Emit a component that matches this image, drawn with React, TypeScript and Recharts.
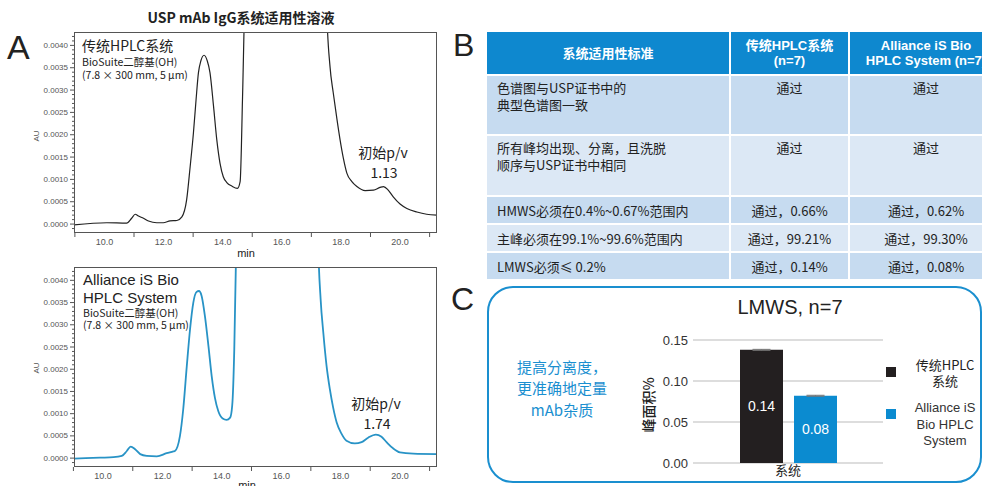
import { LineChart, Line, XAxis, YAxis, BarChart, Bar, CartesianGrid, LabelList, ErrorBar } from "recharts"

// chromatogram, legacy HPLC (min / AU)
const legacyTime = [8.97, 10.08, 10.75, 10.92, 11.04, 11.15, 11.32, 11.49, 11.77, 11.99, 12.22, 12.45, 12.62, 12.78, 12.9, 13.01, 13.1, 13.18, 13.26, 13.37, 13.48, 13.57, 13.69, 13.8, 13.91, 14.02, 14.14, 14.31, 14.5, 14.59, 14.67, 14.73, 14.8, 15.0, 15.5, 16.2, 17.0, 17.4, 17.52, 17.63, 17.74, 17.86, 17.97, 18.08, 18.2, 18.37, 18.54, 18.82, 19.1, 19.32, 19.44, 19.6, 19.77, 20.0, 20.23, 20.57, 20.9, 21.24]
const legacyAu = [-0.00002, 0.00003, 0.00002, 0.00013, 0.00022, 0.00018, 0.00013, 0.00007, 0.00003, 0.00003, 0.00007, 0.00008, 0.00016, 0.00054, 0.00129, 0.00204, 0.00279, 0.00339, 0.00365, 0.00378, 0.00365, 0.00339, 0.00264, 0.00189, 0.00136, 0.00106, 0.00093, 0.00085, 0.0008, 0.00095, 0.0028, 0.0046, 0.008, 0.02, 0.06, 0.08, 0.05, 0.012, 0.0048, 0.00353, 0.00294, 0.00237, 0.00189, 0.00148, 0.00114, 0.00095, 0.00084, 0.00075, 0.00076, 0.00082, 0.00084, 0.00076, 0.00061, 0.00045, 0.00035, 0.00027, 0.00022, 0.0002]

// chromatogram, Alliance iS Bio
const allianceTime = [9.02, 9.9, 10.35, 10.63, 10.8, 10.93, 11.08, 11.25, 11.47, 11.81, 12.14, 12.37, 12.42, 12.59, 12.7, 12.82, 12.93, 13.04, 13.15, 13.23, 13.32, 13.43, 13.55, 13.66, 13.77, 13.88, 14.03, 14.16, 14.28, 14.35, 14.42, 14.48, 14.6, 15.0, 15.5, 16.0, 16.8, 17.15, 17.25, 17.33, 17.42, 17.53, 17.64, 17.75, 17.87, 18.04, 18.2, 18.48, 18.71, 18.93, 19.19, 19.38, 19.55, 19.77, 20.0, 20.45, 21.24]
const allianceAu = [-0.00001, 0.00001, 0.00002, 0.00005, 0.00016, 0.00026, 0.0002, 0.00009, 0.00005, 0.00004, 0.00011, 0.00015, 0.00016, 0.0005, 0.0011, 0.00207, 0.0029, 0.0035, 0.00374, 0.00376, 0.00365, 0.0032, 0.00252, 0.00184, 0.00135, 0.00106, 0.00089, 0.00086, 0.00091, 0.00118, 0.00245, 0.0046, 0.01, 0.03, 0.07, 0.08, 0.04, 0.01, 0.0048, 0.00357, 0.00282, 0.00207, 0.00155, 0.00114, 0.0008, 0.00054, 0.00039, 0.00033, 0.00036, 0.00046, 0.00053, 0.00048, 0.00036, 0.00022, 0.00013, 0.0001, 0.00009]

const auLabels = [0, 0.0005, 0.001, 0.0015, 0.002, 0.0025, 0.003, 0.0035, 0.004]
const auMinor = Array.from({ length: 44 }, (_, i) => (i - 1) / 10000)
const minTicks = [9, 10, 11, 12, 13, 14, 15, 16, 17, 18, 19, 20, 21]

// LMWS bar chart
const lmwsCategory = "系统"
const lmwsLegacy = 0.138
const lmwsAlliance = 0.082
const lmwsLegacyErr = 0.0006
const lmwsAllianceErr = 0.0006
const lmwsTicks = [0, 0.05, 0.1, 0.15]

// table
const tableHeader = ["系统适用性标准", "传统HPLC系统\n(n=7)", "Alliance iS Bio\nHPLC System (n=7)"]
const criteria = ["色谱图与USP证书中的\n典型色谱图一致", "所有峰均出现、分离，且洗脱\n顺序与USP证书中相同", "HMWS必须在0.4%~0.67%范围内", "主峰必须在99.1%~99.6%范围内", "LMWS必须≤ 0.2%"]
const legacyResults = ["通过", "通过", "通过，0.66%", "通过，99.21%", "通过，0.14%"]
const allianceResults = ["通过", "通过", "通过，0.62%", "通过，99.30%", "通过，0.08%"]

const CJK = '"Noto Sans CJK SC", sans-serif'
const ARIAL = '"Liberation Sans", "Noto Sans CJK SC", sans-serif'
const BLUE = "#0b8bd0"

function T({ x, y, children, size = 13, anchor = "start", color = "#222", weight = 400, family = CJK, lh = 1.3 }: any) {
    const tx = anchor === "middle" ? "-50%" : anchor === "end" ? "-100%" : "0"
    return (
        <div
            style={{
                position: "absolute",
                left: x,
                top: y,
                transform: `translate(${tx}, -50%)`,
                fontSize: size,
                color,
                fontWeight: weight,
                fontFamily: family,
                lineHeight: `${lh}`,
                whiteSpace: "pre",
                textAlign: anchor === "middle" ? "center" : "left",
            }}
        >
            {children}
        </div>
    )
}

const isMajorAu = (v: number) => auLabels.some((l) => Math.abs(l - v) < 1e-9)

const AuTick = (props: any) => {
    const { x, y, payload } = props
    const v = payload.value
    const major = isMajorAu(v)
    return (
        <g>
            <line x1={x + (major ? 2 : 4)} x2={x + 6} y1={y} y2={y} stroke="#555" strokeWidth={1} />
            {major && (
                <text x={x} y={y} dy="0.32em" textAnchor="end" fontSize={8} fill="#555" fontFamily={ARIAL}>
                    {v.toFixed(4)}
                </text>
            )}
        </g>
    )
}

const MinTick = (props: any) => {
    const { x, y, payload } = props
    const v = payload.value
    if (v % 2 === 0) {
        return (
            <text x={x} y={y} dy="0.71em" textAnchor="middle" fontSize={9} fill="#555" fontFamily={ARIAL}>
                {v.toFixed(1)}
            </text>
        )
    }
    return <line x1={x} x2={x} y1={y - 6} y2={y - 2} stroke="#555" strokeWidth={1} />
}

function Chromatogram({ top, height, time, au, color, strokeWidth, xDomain }: any) {
    const data = time.map((t: number, i: number) => ({ t, au: au[i] }))
    return (
        <div style={{ position: "absolute", left: 0, top }}>
            <LineChart width={450} height={height} data={data} margin={{ top: 32, right: 13, bottom: 7, left: 0 }}>
                <XAxis
                    dataKey="t"
                    type="number"
                    domain={xDomain}
                    allowDataOverflow
                    ticks={minTicks}
                    interval={0}
                    tick={MinTick}
                    tickLine={false}
                    axisLine={false}
                    tickSize={4}
                    tickMargin={2}
                    height={20}
                />
                <YAxis
                    type="number"
                    domain={[-0.0002, 0.0043]}
                    allowDataOverflow
                    ticks={auMinor}
                    interval={0}
                    tick={AuTick}
                    tickLine={false}
                    axisLine={false}
                    tickSize={4}
                    tickMargin={2}
                    width={74}
                />
                <Line
                    dataKey="au"
                    type="monotone"
                    stroke={color}
                    strokeWidth={strokeWidth}
                    dot={false}
                    isAnimationActive={false}
                />
            </LineChart>
            <div
                style={{
                    position: "absolute",
                    left: 74,
                    top: 32,
                    width: 363,
                    height: height - 59,
                    border: "1px solid #555",
                    boxSizing: "border-box",
                }}
            />
        </div>
    )
}

const rowTops = [32, 76, 136, 197, 225, 253]
const rowHeights = [42, 58, 59, 26, 26, 26]
const colLefts = [487, 731, 850]
const colWidths = [242, 117, 152]

function SuitabilityTable() {
    const rows = criteria.map((c, i) => [c, legacyResults[i], allianceResults[i]])
    return (
        <>
            {tableHeader.map((h, j) => (
                <div
                    key={"h" + j}
                    style={{
                        position: "absolute",
                        left: colLefts[j],
                        top: rowTops[0],
                        width: colWidths[j],
                        height: rowHeights[0],
                        background: "#0e88cf",
                        color: "#fff",
                        fontFamily: ARIAL,
                        fontWeight: 700,
                        fontSize: 13,
                        lineHeight: "15px",
                        display: "flex",
                        alignItems: "center",
                        justifyContent: "center",
                        textAlign: "center",
                        whiteSpace: "pre",
                        overflow: "visible",
                    }}
                >
                    {h}
                </div>
            ))}
            {rows.map((r, i) =>
                r.map((cell, j) => (
                    <div
                        key={i + "-" + j}
                        style={{
                            position: "absolute",
                            left: colLefts[j],
                            top: rowTops[i + 1],
                            width: colWidths[j],
                            height: rowHeights[i + 1],
                            boxSizing: "border-box",
                            background: i % 2 === 0 ? "#c6dbf0" : "#dce8f5",
                            color: "#222",
                            fontFamily: CJK,
                            fontSize: 13,
                            lineHeight: "17px",
                            paddingLeft: j === 0 ? 10 : 0,
                            paddingTop: i < 2 ? 3 : 0,
                            display: "flex",
                            alignItems: i < 2 ? "flex-start" : "center",
                            justifyContent: j === 0 ? "flex-start" : "center",
                            whiteSpace: "pre",
                        }}
                    >
                        {cell}
                    </div>
                ))
            )}
        </>
    )
}

function LmwsChart() {
    const data = [
        {
            name: lmwsCategory,
            legacy: lmwsLegacy,
            alliance: lmwsAlliance,
            legacyErr: lmwsLegacyErr,
            allianceErr: lmwsAllianceErr,
        },
    ]
    const fmt = (v: any) => Number(v).toFixed(2)
    return (
        <div style={{ position: "absolute", left: 600, top: 290 }}>
            <BarChart width={300} height={190} data={data} margin={{ top: 50, right: 17, bottom: 0, left: 0 }} barGap={11}>
                <CartesianGrid vertical={false} stroke="#bbb" />
                <XAxis
                    dataKey="name"
                    tickLine={false}
                    axisLine={false}
                    tickSize={0}
                    tickMargin={3}
                    height={17}
                    tick={{ fontSize: 13, fill: "#222", fontFamily: CJK }}
                />
                <YAxis
                    domain={[0, 0.15]}
                    ticks={lmwsTicks}
                    interval={0}
                    tickFormatter={fmt}
                    tickLine={false}
                    axisLine={false}
                    tickSize={3}
                    tickMargin={2}
                    width={93}
                    tick={{ fontSize: 13, fill: "#333", fontFamily: ARIAL }}
                />
                <Bar dataKey="legacy" fill="#231f20" barSize={43} isAnimationActive={false}>
                    <ErrorBar dataKey="legacyErr" width={9} stroke="#777" strokeWidth={1} />
                    <LabelList dataKey="legacy" position="center" formatter={fmt} fill="#fff" fontSize={14} fontFamily={ARIAL} />
                </Bar>
                <Bar dataKey="alliance" fill={BLUE} barSize={43} isAnimationActive={false}>
                    <ErrorBar dataKey="allianceErr" width={9} stroke="#777" strokeWidth={1} />
                    <LabelList dataKey="alliance" position="center" formatter={fmt} fill="#fff" fontSize={14} fontFamily={ARIAL} />
                </Bar>
            </BarChart>
        </div>
    )
}

export default function App() {
    return (
        <div
            style={{
                position: "absolute",
                left: 0,
                top: 0,
                width: 982,
                height: 486,
                overflow: "hidden",
                background: "#fff",
                fontFamily: CJK,
            }}
        >
            <T x={241} y={17} size={14} weight={700} anchor="middle">USP mAb IgG系统适用性溶液</T>
            <T x={7} y={47} size={34} family={ARIAL}>A</T>
            <T x={453} y={46} size={32} family={ARIAL}>B</T>
            <T x={451} y={300} size={32} family={ARIAL}>C</T>

            <Chromatogram top={0} height={260} time={legacyTime} au={legacyAu} color="#222" strokeWidth={1.2} xDomain={[8.97, 21.25]} />
            <Chromatogram top={235} height={259} time={allianceTime} au={allianceAu} color="#2893c6" strokeWidth={1.8} xDomain={[9.02, 21.25]} />

            <div style={{ position: "absolute", left: 36, top: 136, transform: "translate(-50%, -50%) rotate(-90deg)", fontSize: 8, color: "#555", fontFamily: ARIAL }}>AU</div>
            <div style={{ position: "absolute", left: 36, top: 368, transform: "translate(-50%, -50%) rotate(-90deg)", fontSize: 8, color: "#555", fontFamily: ARIAL }}>AU</div>
            <T x={246} y={253} size={11} anchor="middle" family={ARIAL}>min</T>
            <T x={247} y={485} size={11} anchor="middle" family={ARIAL}>min</T>

            <T x={82} y={45} size={14}>传统HPLC系统</T>
            <T x={82} y={62} size={10.5} lh={1}>BioSuite二醇基(OH)</T>
            <T x={82} y={75} size={10.5} lh={1}>(7.8 × 300 mm, 5 µm)</T>
            <T x={383} y={152} size={14} anchor="middle">初始p/v</T>
            <T x={384} y={172} size={14} anchor="middle">1.13</T>

            <T x={83} y={280} size={15} family={ARIAL} lh={1.1}>Alliance iS Bio</T>
            <T x={83} y={298} size={15} family={ARIAL} lh={1.1}>HPLC System</T>
            <T x={83} y={313} size={10.5} lh={1}>BioSuite二醇基(OH)</T>
            <T x={83} y={325} size={10.5} lh={1}>(7.8 × 300 mm, 5 µm)</T>
            <T x={376} y={403} size={14} anchor="middle">初始p/v</T>
            <T x={377} y={423} size={14} anchor="middle">1.74</T>

            <SuitabilityTable />

            <div
                style={{
                    position: "absolute",
                    left: 487,
                    top: 286,
                    width: 495,
                    height: 197,
                    border: "2.5px solid #1a8fcf",
                    borderRadius: 26,
                    boxSizing: "border-box",
                }}
            />
            <T x={562} y={388} size={15} anchor="middle" color="#1a8fd0" lh={1.43}>{"提高分离度，\n更准确地定量\nmAb杂质"}</T>
            <T x={790} y={307} size={20} anchor="middle" family={ARIAL} color="#222">LMWS, n=7</T>
            <div style={{ position: "absolute", left: 648, top: 405, transform: "translate(-50%, -50%) rotate(-90deg)", fontSize: 14, color: "#222", fontFamily: CJK, whiteSpace: "nowrap", fontWeight: 500 }}>峰面积%</div>
            <LmwsChart />

            <div style={{ position: "absolute", left: 886, top: 367, width: 10, height: 10, background: "#231f20" }} />
            <div style={{ position: "absolute", left: 886, top: 409, width: 10, height: 10, background: BLUE }} />
            <T x={945} y={373} size={13} anchor="middle" lh={1.2}>{"传统HPLC\n系统"}</T>
            <T x={945} y={425} size={13} anchor="middle" family={ARIAL} color="#333" lh={1.27}>{"Alliance iS\nBio HPLC\nSystem"}</T>
        </div>
    )
}
